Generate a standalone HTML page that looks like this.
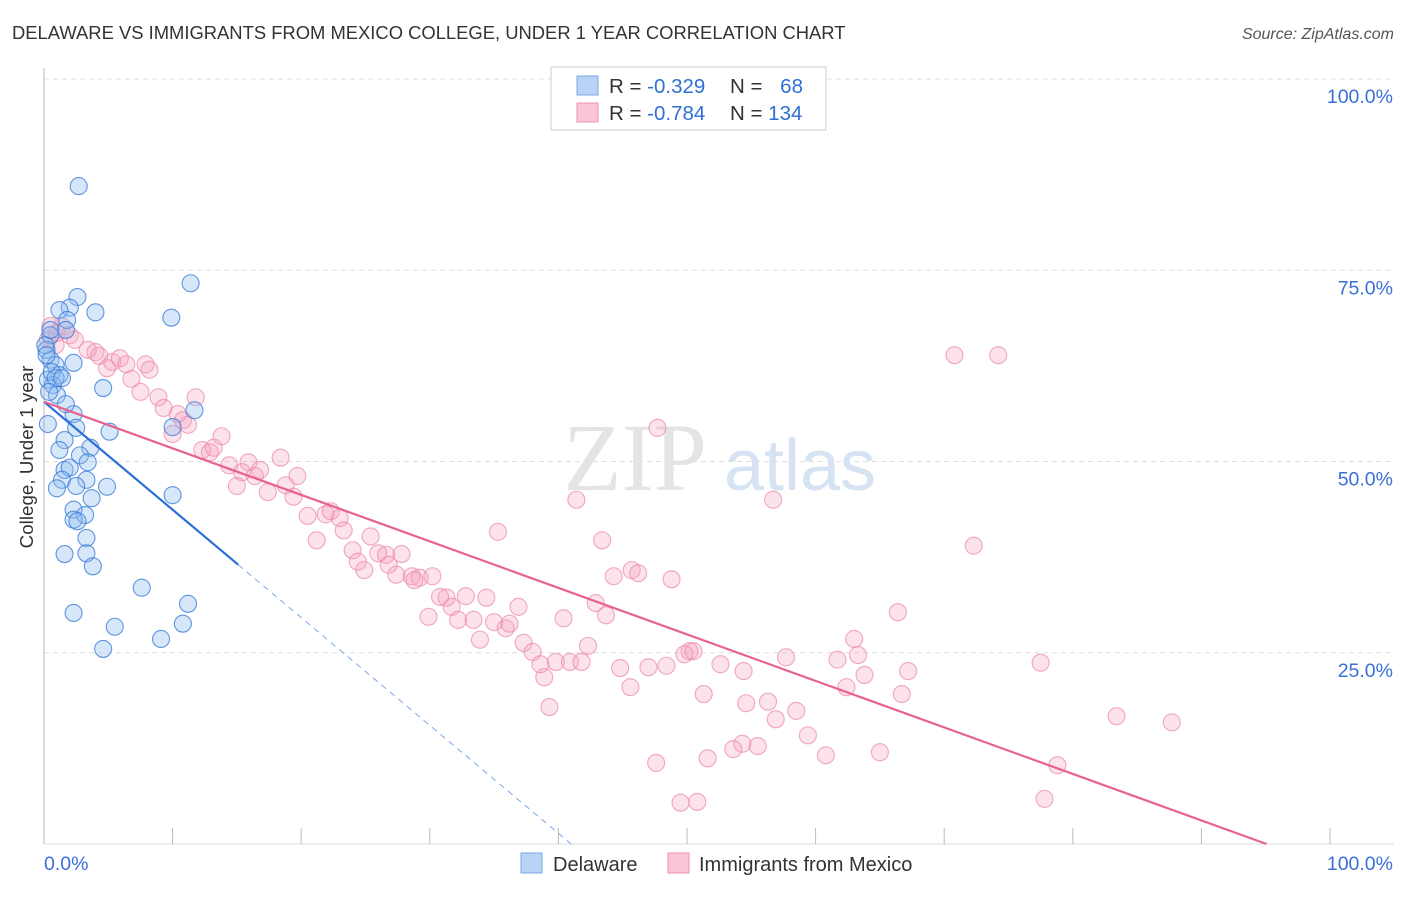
<!DOCTYPE html>
<html><head><meta charset="utf-8"><style>
body{margin:0;background:#fff;font-family:"Liberation Sans",sans-serif;}
</style></head><body>
<svg width="1406" height="892" viewBox="0 0 1406 892" xmlns="http://www.w3.org/2000/svg">
<text x="12" y="39" font-size="18.4" fill="#333">DELAWARE VS IMMIGRANTS FROM MEXICO COLLEGE, UNDER 1 YEAR CORRELATION CHART</text>
<text x="1394" y="39" font-size="16" fill="#555" font-style="italic" text-anchor="end">Source: ZipAtlas.com</text>
<g id="grid"></g>
<g><text x="635" y="490" font-size="96" fill="#e4e4e4" font-family="Liberation Serif,serif" text-anchor="middle">ZIP</text><text x="800" y="490" font-size="72" fill="#d6e3f3" text-anchor="middle">atlas</text></g>
<g id="axes"></g>
<g id="pts"></g>
<g id="trends"></g>
<text x="33" y="457" font-size="18.8" fill="#333" text-anchor="middle" transform="rotate(-90 33 457)">College, Under 1 year</text>
<g>
<rect x="551" y="67" width="275" height="63" fill="#fff" stroke="#ccc"/>
<rect x="577" y="76" width="21" height="19" fill="#b8d3f5" stroke="#7aa7e6"/>
<rect x="577" y="103" width="21" height="19" fill="#f9c6d5" stroke="#ee93ae"/>
<text x="609" y="93" font-size="20.5" fill="#333">R = <tspan fill="#2f6fd6">-0.329</tspan></text>
<text x="730" y="93" font-size="20.5" fill="#333">N = <tspan fill="#2f6fd6" dx="12">68</tspan></text>
<text x="609" y="120" font-size="20.5" fill="#333">R = <tspan fill="#2f6fd6">-0.784</tspan></text>
<text x="730" y="120" font-size="20.5" fill="#333">N = <tspan fill="#2f6fd6">134</tspan></text>
</g>
<g>
<rect x="521" y="853" width="21" height="20" fill="#b8d3f5" stroke="#7aa7e6"/>
<text x="553" y="871" font-size="20" fill="#333">Delaware</text>
<rect x="668" y="853" width="21" height="20" fill="#f9c6d5" stroke="#ee93ae"/>
<text x="699" y="871" font-size="20" fill="#333">Immigrants from Mexico</text>
</g>
</svg>
<script>
const yTicks=[25,50,75,100];
const xTickLabels=["0.0%","100.0%"];
const blueX=[2.7,11.4,9.9,2.6,2.0,1.2,4.0,1.8,1.7,0.5,0.2,0.5,2.3,0.9,1.2,0.3,0.7,4.6,1.0,11.7,2.3,0.3,2.5,5.1,10.0,1.6,1.2,3.6,2.8,3.4,1.6,2.0,3.3,1.4,2.5,1.0,4.9,3.7,10.0,2.3,3.2,2.3,2.6,3.3,1.6,3.3,3.8,7.6,11.2,2.3,5.5,10.8,9.1,4.6,0.1,0.2,0.6,0.9,0.4,1.4,1.7,0.5];
const blueY=[86.0,73.3,68.8,71.5,70.1,69.8,69.5,68.5,67.2,66.5,64.6,63.3,62.9,62.6,61.3,60.7,60.0,59.6,58.7,56.7,56.2,54.9,54.4,53.9,54.5,52.8,51.5,51.8,50.8,49.9,48.9,49.2,47.6,47.6,46.8,46.5,46.7,45.2,45.6,43.7,43.0,42.4,42.2,40.0,37.9,38.0,36.3,33.5,31.4,30.2,28.4,28.8,26.8,25.5,65.2,63.9,61.7,60.9,59.1,60.9,57.5,67.2];
const pinkX=[0.5,1.0,1.4,2.0,2.4,0.3,0.9,3.4,4.0,4.3,5.3,5.9,6.4,4.9,7.9,8.2,6.8,7.5,8.9,11.8,9.3,10.4,10.8,11.2,10.0,13.8,12.3,12.9,13.2,18.4,14.4,15.9,16.8,15.4,16.4,19.7,15.0,17.4,18.8,19.4,41.4,56.7,20.5,21.9,22.3,23.0,23.3,21.2,25.4,35.3,24.0,26.0,27.8,26.6,24.4,26.8,24.9,27.4,28.6,29.2,30.2,28.8,43.4,45.7,46.2,44.3,48.8,72.3,30.8,31.3,32.8,34.4,31.7,36.9,42.9,29.9,32.2,33.4,35.0,35.9,36.2,40.4,43.7,66.4,33.9,37.3,38.0,42.3,63.0,50.2,50.5,49.8,57.7,61.7,63.3,38.6,39.8,40.9,41.8,44.8,47.0,48.4,52.6,54.4,77.5,67.2,38.9,63.8,45.6,62.4,51.3,66.7,54.6,56.3,39.3,58.5,56.9,83.4,87.7,59.4,54.3,53.6,55.5,60.8,65.0,51.6,47.6,78.8,77.8,49.5,50.8,70.8,74.2,47.7];
const pinkY=[67.7,66.8,67.7,66.5,65.9,65.9,65.2,64.6,64.3,63.8,63.0,63.5,62.7,62.2,62.7,62.0,60.8,59.1,58.4,58.4,57.0,56.2,55.4,54.8,53.6,53.3,51.5,51.2,51.8,50.5,49.5,49.9,48.9,48.6,48.1,48.1,46.8,46.0,46.9,45.4,45.0,45.0,42.9,43.1,43.5,42.6,41.0,39.7,40.2,40.8,38.4,38.0,37.9,37.8,36.9,36.5,35.8,35.2,35.0,34.8,35.0,34.5,39.7,35.8,35.4,35.0,34.6,39.0,32.3,32.2,32.4,32.2,31.0,31.0,31.5,29.7,29.3,29.3,29.0,28.2,28.8,29.5,29.9,30.3,26.7,26.3,25.1,25.9,26.8,25.2,25.2,24.8,24.4,24.1,24.7,23.5,23.8,23.8,23.8,23.0,23.1,23.3,23.5,22.6,23.7,22.6,21.8,22.1,20.5,20.5,19.6,19.6,18.4,18.6,17.9,17.4,16.3,16.7,15.9,14.2,13.1,12.4,12.8,11.6,12.0,11.2,10.6,10.3,5.9,5.4,5.5,63.9,63.9,54.4];
const blueTrend=[57.8,-1.41];
const pinkTrend=[57.8,-0.608];
const NS="http://www.w3.org/2000/svg";
const X=v=>44+v*12.86, Y=v=>844-v*7.65;
function mk(t,a,p){const e=document.createElementNS(NS,t);for(const k in a)e.setAttribute(k,a[k]);p.appendChild(e);return e;}
const grid=document.getElementById('grid'),axes=document.getElementById('axes');
yTicks.forEach(t=>{
 const l=mk('line',{x1:44,x2:1394,y1:Y(t),y2:Y(t),stroke:'#ddd','stroke-dasharray':'5,4'},grid);
 
 
 const tx=mk('text',{x:1393,y:Y(t)+24,'font-size':19.5,fill:'#3a6fd8','text-anchor':'end'},grid);
 tx.textContent=t.toFixed(1)+'%';
 
 
});
mk('line',{x1:44,x2:44,y1:68,y2:844,stroke:'#bbb'},axes);
mk('line',{x1:44,x2:1394,y1:844,y2:844,stroke:'#ddd'},axes);
for(let i=0;i<=10;i++){const t=mk('line',{x1:X(i*10),x2:X(i*10),y1:828,y2:844,stroke:'#bbb'},axes);}
const l0=mk('text',{x:44,y:870,'font-size':19.5,fill:'#3a6fd8'},axes);l0.textContent=xTickLabels[0];
const l1=mk('text',{x:1393,y:870,'font-size':19.5,fill:'#3a6fd8','text-anchor':'end'},axes);l1.textContent=xTickLabels[1];
const pts=document.getElementById('pts');
pinkX.forEach((x,i)=>{const c=mk('circle',{cx:X(x),cy:Y(pinkY[i]),r:8.5,fill:'rgba(244,160,188,0.3)',stroke:'rgba(236,140,170,0.75)','stroke-width':1.1},pts);
 
 });
blueX.forEach((x,i)=>{const c=mk('circle',{cx:X(x),cy:Y(blueY[i]),r:8.5,fill:'rgba(140,185,240,0.35)',stroke:'rgba(60,125,215,0.8)','stroke-width':1.1},pts);
 
 });
const tr=document.getElementById('trends');
const b1=mk('line',{x1:X(0),y1:Y(blueTrend[0]),x2:X(15.1),y2:Y(blueTrend[0]+blueTrend[1]*15.1),stroke:'#2a6fd6','stroke-width':2.2},tr);


const b2=mk('line',{x1:X(15.1),y1:Y(blueTrend[0]+blueTrend[1]*15.1),x2:X(41),y2:Y(blueTrend[0]+blueTrend[1]*41),stroke:'#7aa7e6','stroke-width':1,'stroke-dasharray':'6,5'},tr);


const xe=-pinkTrend[0]/pinkTrend[1];
const p1=mk('line',{x1:X(0),y1:Y(pinkTrend[0]),x2:X(xe),y2:Y(0),stroke:'#e8628e','stroke-width':2.2},tr);


</script>
</body></html>
